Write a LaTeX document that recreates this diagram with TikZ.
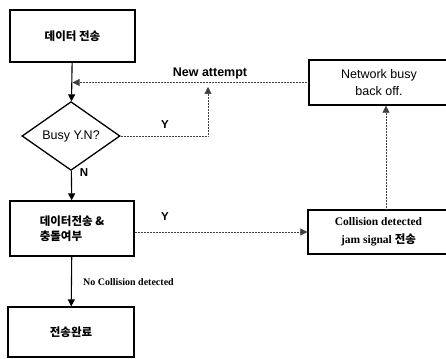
\documentclass[tikz,border=0pt]{standalone}
\usepackage{fontspec}
\setmainfont{Liberation Serif}
\setsansfont{Liberation Sans}
\newfontfamily\kr{Noto Sans CJK KR}
\usetikzlibrary{shapes.geometric,arrows.meta}
\begin{document}
\begin{tikzpicture}[x=1pt,y=-1pt,
  box/.style={draw, line width=1.3pt, inner sep=0pt, align=center},
  krtext/.style={font=\kr\bfseries\fontsize{11.5}{15}\selectfont},
  sarrow/.style={line width=1.1pt, -{Triangle[length=7pt,width=7pt]}},
  dotline/.style={line width=0.7pt, black!75, dash pattern=on 0.8pt off 0.7pt},
  dtip/.style={-{Triangle[length=7pt,width=7pt]}},
  lbl/.style={font=\sffamily\bfseries\fontsize{11.5}{14}\selectfont, inner sep=0pt}]
\useasboundingbox (0,0) rectangle (446,358);
\node[box, krtext, minimum width=125pt, minimum height=52pt] (b1) at (72.5,36) {데이터 전송};
\node[diamond, draw, line width=1.3pt, minimum width=98pt, minimum height=59pt, inner sep=0pt,
  font=\sffamily\fontsize{12.5}{15}\selectfont] (d) at (71,136) {Busy Y.N?};
\node[box, krtext, align=left, minimum width=124pt, minimum height=55pt] (b4) at (72,228.5) {데이터전송 \&\\충돌여부\hspace*{6pt}};
\node[box, krtext, minimum width=126pt, minimum height=50pt] (b5) at (71,332) {전송완료};
\node[box, minimum width=140pt, minimum height=45pt,
  font=\sffamily\fontsize{12.5}{17}\selectfont] (b2) at (379,82.5) {Network busy\\back off.};
\node[box, minimum width=141pt, minimum height=44pt,
  font=\rmfamily\bfseries\fontsize{11.5}{18}\selectfont] (b3) at (378.5,232) {Collision detected\\jam signal {\kr 전송}};
\coordinate (yturn) at (208,136);
\coordinate (yend) at (208,87);
\coordinate (vx) at (386,0);
\draw[sarrow] (b1) -- (d);
\draw[sarrow] (d) -- (b4);
\draw[sarrow] (b4) -- (b5);
\draw[dotline, dtip] (d.east) -- (yturn) -- (yend);
\draw[dotline, dtip] (b2.west) -- (b2.west -| b1.south);
\draw[dotline, dtip] (b3.west -| b4.east) -- (b3.west);
\draw[dotline, dtip] (b3.north -| vx) -- (b2.south -| vx);
\node[lbl, font=\sffamily\bfseries\fontsize{12.5}{15}\selectfont] (na) at (210,73) {New attempt};
\node[lbl] (y1) at (165,125) {Y};
\node[lbl] (y2) at (165,217) {Y};
\node[lbl] (n1) at (84,173) {N};
\node[anchor=west, inner sep=0pt, font=\rmfamily\bfseries\fontsize{10}{12}\selectfont] (nc) at (83,282) {No Collision detected};
\end{tikzpicture}
\end{document}
